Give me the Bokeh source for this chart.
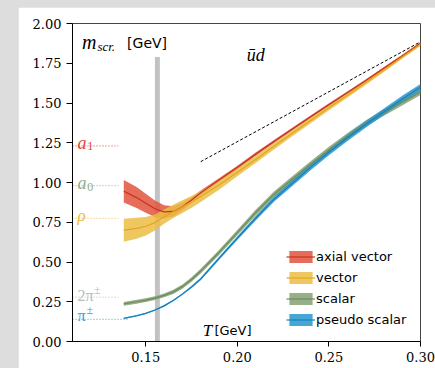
from bokeh.plotting import figure
from bokeh.models import (FixedTicker, PrintfTickFormatter, Label, Legend,
                          LegendItem, GlobalInlineStyleSheet)
from bokeh.embed import file_html
from bokeh.resources import INLINE

# ---------------- data ----------------
T = [0.138, 0.145, 0.150, 0.155, 0.160, 0.165, 0.170, 0.175, 0.180, 0.190,
     0.200, 0.210, 0.220, 0.230, 0.240, 0.250, 0.260, 0.270, 0.280, 0.290, 0.300]

axial = [0.945, 0.905, 0.870, 0.835, 0.815, 0.818, 0.848, 0.890, 0.935, 1.015,
         1.095, 1.178, 1.258, 1.336, 1.413, 1.489, 1.564, 1.640, 1.718, 1.796, 1.876]
axial_err = [0.070, 0.066, 0.060, 0.052, 0.042, 0.032, 0.024, 0.018, 0.015, 0.012,
             0.011, 0.010, 0.010, 0.009, 0.009, 0.009, 0.008, 0.008, 0.008, 0.008, 0.008]

vector = [0.700, 0.712, 0.725, 0.748, 0.785, 0.818, 0.848, 0.878, 0.912, 0.985,
          1.065, 1.145, 1.228, 1.310, 1.390, 1.470, 1.548, 1.627, 1.708, 1.790, 1.870]
vector_err = [0.072, 0.066, 0.058, 0.050, 0.045, 0.042, 0.040, 0.037, 0.035, 0.030,
              0.026, 0.023, 0.021, 0.019, 0.017, 0.016, 0.015, 0.014, 0.013, 0.012, 0.012]

scalar = [0.237, 0.250, 0.260, 0.273, 0.290, 0.312, 0.345, 0.390, 0.443, 0.560,
          0.685, 0.810, 0.925, 1.020, 1.115, 1.205, 1.290, 1.370, 1.440, 1.505, 1.570]
scalar_err = [0.012, 0.012, 0.012, 0.012, 0.012, 0.013, 0.013, 0.014, 0.015, 0.016,
              0.017, 0.018, 0.018, 0.019, 0.019, 0.020, 0.020, 0.020, 0.020, 0.020, 0.020]

pseudo = [0.145, 0.162, 0.177, 0.198, 0.224, 0.258, 0.298, 0.343, 0.393, 0.523,
          0.650, 0.775, 0.895, 0.995, 1.095, 1.190, 1.280, 1.365, 1.445, 1.525, 1.600]
pseudo_err = [0.004, 0.004, 0.004, 0.004, 0.005, 0.005, 0.006, 0.007, 0.008, 0.010,
              0.012, 0.014, 0.016, 0.017, 0.018, 0.019, 0.020, 0.020, 0.020, 0.020, 0.020]

# free-theory line 2*pi*T
dash_T = [0.18, 0.30]
dash_m = [1.131, 1.885]

# pseudo-critical temperature band
tc_lo, tc_hi, tc_top = 0.1550, 0.1577, 1.79

# vacuum masses (GeV) shown at the left
thr_mass = [1.230, 0.980, 0.775, 0.279, 0.1396]
thr_end = [0.135, 0.135, 0.135, 0.135, 0.140]
thr_colors = ["#e8442d", "#93ad85", "#f0b832", "#bbbbbb", "#3a9fd6"]

x_ticks = [0.15, 0.20, 0.25, 0.30]
y_ticks = [0.0, 0.25, 0.5, 0.75, 1.0, 1.25, 1.5, 1.75, 2.0]

# ---------------- figure ----------------
p = figure(width=417, height=361, x_range=(0.11, 0.30), y_range=(0.0, 2.0),
           output_backend="svg", toolbar_location=None,
           min_border_left=54, min_border_right=15, min_border_top=16,
           min_border_bottom=27)
p.margin = (7, 0, 0, 18)
p.stylesheets = [GlobalInlineStyleSheet(
    css="html, body { margin: 0; padding: 0; background: #dddddd; overflow: hidden; }")]
p.background_fill_color = "white"
p.border_fill_color = "white"
p.outline_line_color = "#444444"
p.outline_line_width = 1
p.grid.visible = False

for ax in (p.xaxis[0], p.yaxis[0]):
    ax.axis_line_color = "black"
    ax.major_tick_line_color = "black"
    ax.major_tick_in = 0
    ax.major_tick_out = 5
    ax.minor_tick_line_color = None
    ax.major_label_text_font = "DejaVu Serif"
    ax.major_label_text_font_size = "13px"
    ax.major_label_text_color = "black"
    ax.major_label_standoff = 5
    ax.formatter = PrintfTickFormatter(format="%.2f")
p.xaxis[0].ticker = FixedTicker(ticks=x_ticks)
p.yaxis[0].ticker = FixedTicker(ticks=y_ticks)
p.yaxis[0].major_tick_out = 6

# Tc band
p.quad(left=[tc_lo], right=[tc_hi], bottom=[0.0], top=[tc_top],
       fill_color="#c2c2c2", line_color=None)

# dotted vacuum-mass lines
p.segment(x0=[0.11] * len(thr_mass), x1=thr_end, y0=thr_mass, y1=thr_mass,
          line_color=thr_colors, line_dash="1 2", line_width=1)

# 2 pi T
p.line(dash_T, dash_m, line_color="black", line_dash="3 2", line_width=1)

def lo(v, e):
    return [a - b for a, b in zip(v, e)]

def hi(v, e):
    return [a + b for a, b in zip(v, e)]

ba = p.varea(x=T, y1=lo(axial, axial_err), y2=hi(axial, axial_err),
             fill_color="#e0533d", fill_alpha=0.85)
bv = p.varea(x=T, y1=lo(vector, vector_err), y2=hi(vector, vector_err),
             fill_color="#ebbd45", fill_alpha=0.85)
la = p.line(T, axial, line_color="#c8321e", line_width=1.2)
lv = p.line(T, vector, line_color="#e3a51f", line_width=1.2)

bs = p.varea(x=T, y1=lo(scalar, scalar_err), y2=hi(scalar, scalar_err),
             fill_color="#8ca57c", fill_alpha=0.9)
bp = p.varea(x=T, y1=lo(pseudo, pseudo_err), y2=hi(pseudo, pseudo_err),
             fill_color="#2896cd", fill_alpha=0.85)
ls = p.line(T, scalar, line_color="#6a8c5c", line_width=1.2)
lp = p.line(T, pseudo, line_color="#1780bd", line_width=1.2)

legend = Legend(items=[
    LegendItem(label="axial vector", renderers=[ba, la]),
    LegendItem(label="vector", renderers=[bv, lv]),
    LegendItem(label="scalar", renderers=[bs, ls]),
    LegendItem(label="pseudo scalar", renderers=[bp, lp]),
], location=(214, 14), orientation="vertical", padding=0, margin=0,
    spacing=6, glyph_width=29, glyph_height=15, label_height=15,
    label_standoff=1, label_text_font="DejaVu Sans",
    label_text_font_size="13px", label_text_color="black",
    border_line_alpha=0, background_fill_alpha=0)
p.add_layout(legend)

# ---------------- text annotations ----------------
def lab(x, y, text, size, color="black", font="Liberation Serif", style="italic"):
    p.add_layout(Label(x=x, y=y, text=text, text_font=font,
                       text_font_style=style, text_font_size=size,
                       text_color=color, text_baseline="alphabetic",
                       text_align="left"))

lab(0.1152, 1.882, "m", "20px")
lab(0.1236, 1.858, "scr.", "13px")
lab(0.1398, 1.880, "[GeV]", "14px", font="DejaVu Sans", style="normal")
lab(0.2052, 1.80, "ūd", "18px")
lab(0.1811, 0.069, "T", "17px")
lab(0.1875, 0.069, "[GeV]", "13px", font="DejaVu Sans", style="normal")

lab(0.1127, 1.248, "a", "18px", color=thr_colors[0])
lab(0.1180, 1.228, "1", "12px", color=thr_colors[0], style="normal")
lab(0.1127, 0.994, "a", "18px", color=thr_colors[1])
lab(0.1180, 0.974, "0", "12px", color=thr_colors[1], style="normal")
lab(0.1127, 0.790, "ρ", "17px", color=thr_colors[2])
lab(0.1127, 0.289, "2π", "16px", color=thr_colors[3], style="normal")
lab(0.1218, 0.322, "±", "12px", color=thr_colors[3], style="normal")
lab(0.1127, 0.166, "π", "16px", color=thr_colors[4], style="normal")
lab(0.1176, 0.196, "±", "12px", color=thr_colors[4], style="normal")

open("out.html", "w").write(file_html(p, INLINE))
